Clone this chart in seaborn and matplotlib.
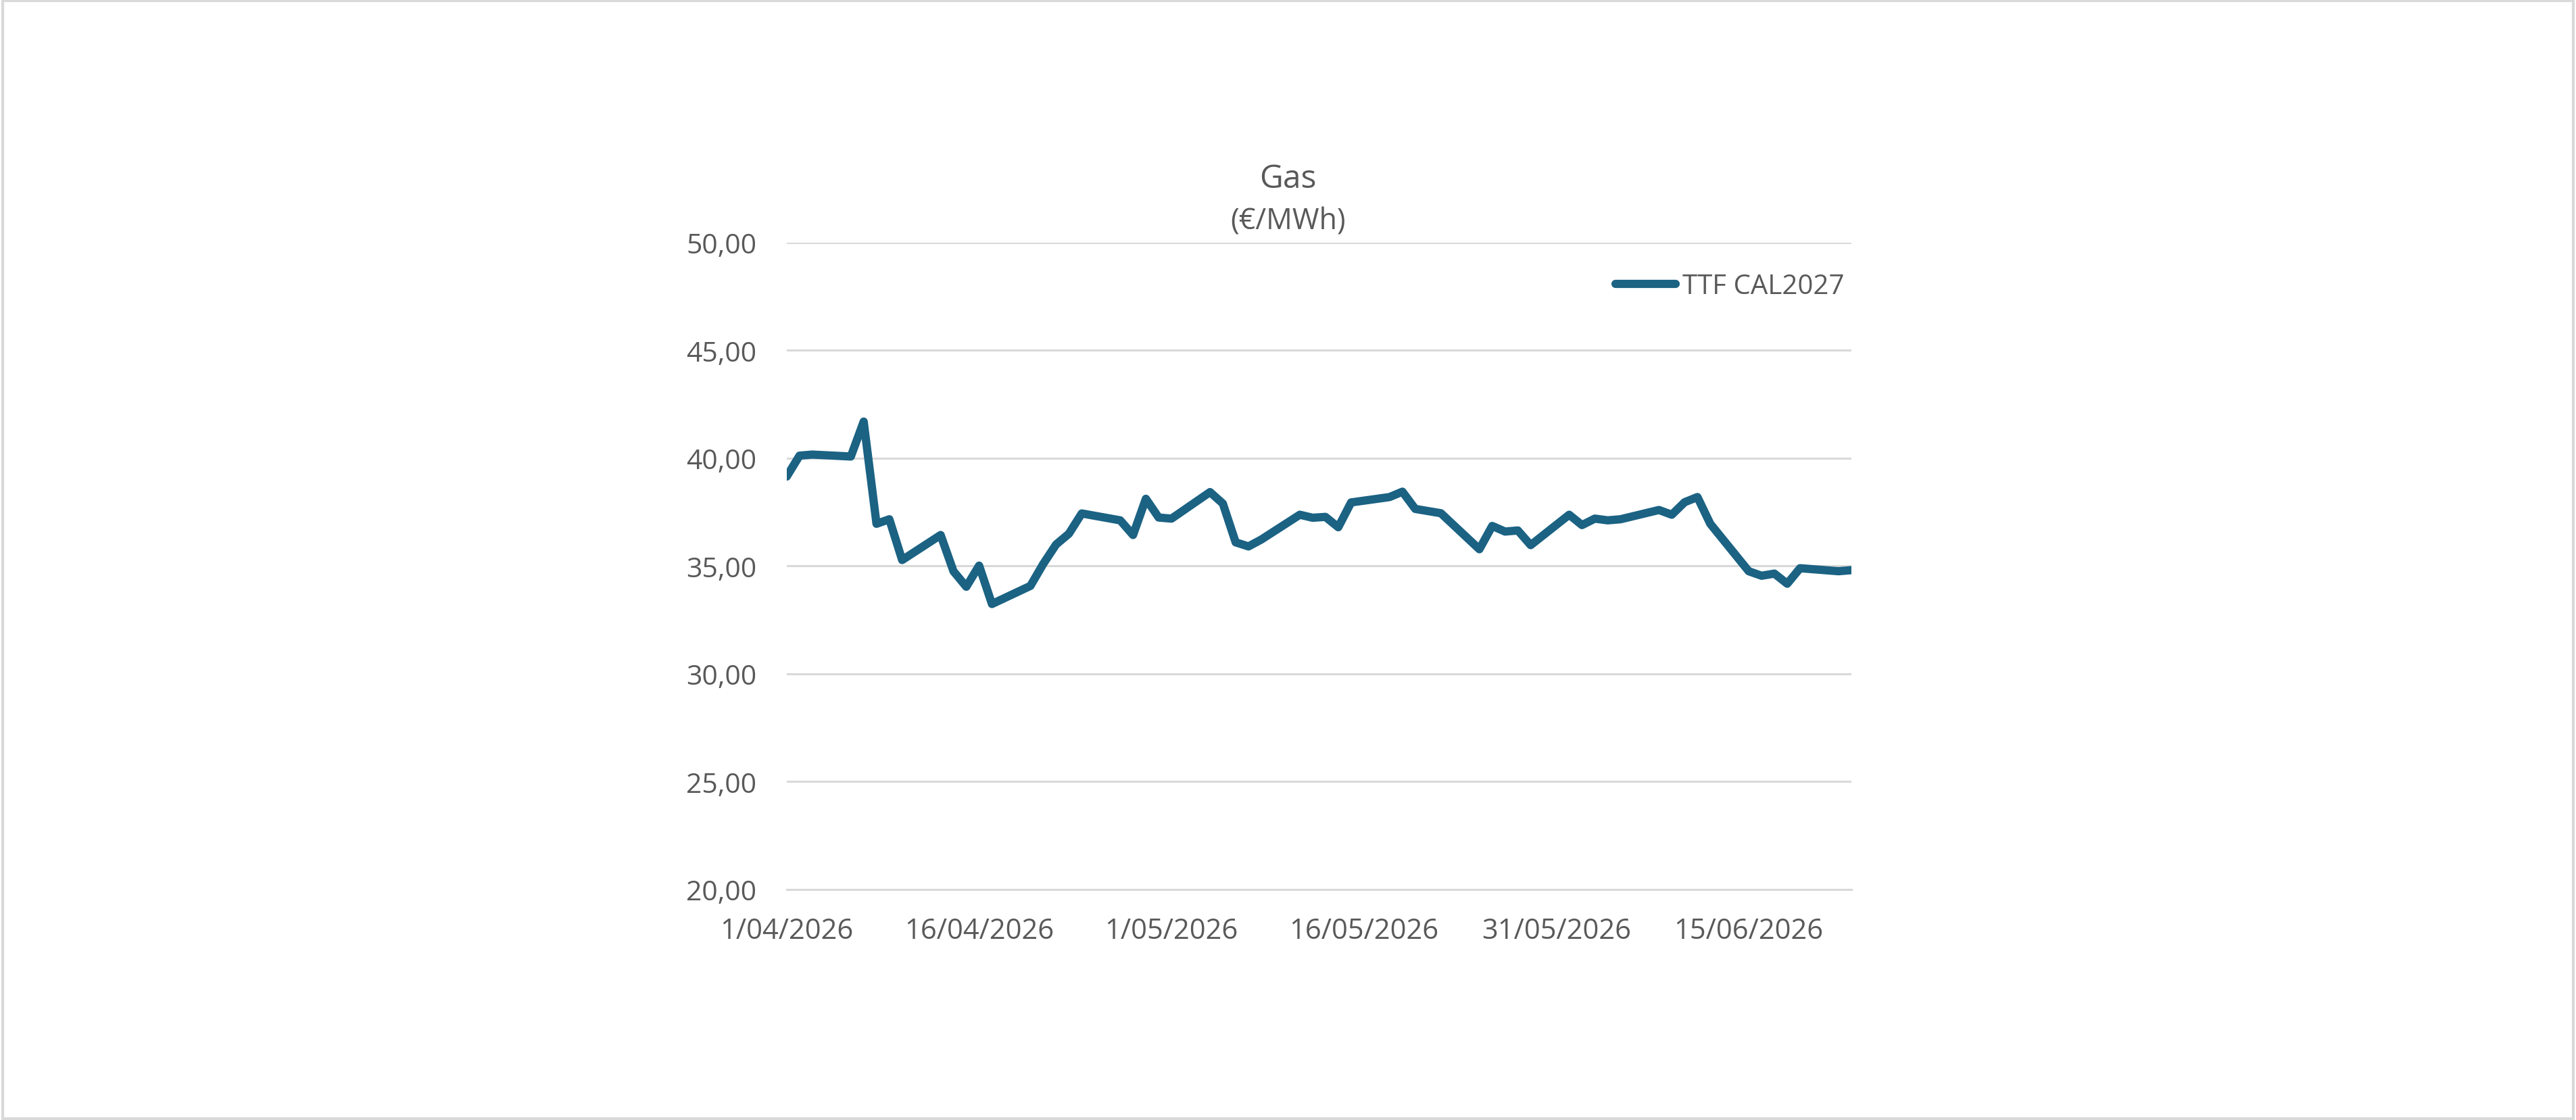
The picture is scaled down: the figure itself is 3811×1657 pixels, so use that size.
import matplotlib
matplotlib.use("Agg")
import matplotlib.pyplot as plt
import matplotlib.ticker as mticker
import pandas as pd
import seaborn as sns

sns.set_style("white")
plt.rcParams['font.family'] = ['Open Sans', 'DejaVu Sans']

# TTF CAL2027 settlement prices (EUR/MWh), trading days 1/04/2026 - 23/06/2026
dates = pd.bdate_range("2026-04-01", "2026-06-23")
prices = [
    39.15, 40.12, 40.17, 40.08, 41.70, 36.96, 37.17, 35.28,
    36.44, 34.76, 34.04, 35.02, 33.24,
    34.08, 35.10, 36.00, 36.50, 37.44,
    37.12, 36.44, 38.12, 37.25, 37.20,
    38.43, 37.90, 36.10, 35.91, 36.23,
    37.38, 37.24, 37.28, 36.80, 37.95,
    38.20, 38.45, 37.65, 37.55, 37.45,
    35.78, 36.86, 36.60, 36.65, 35.97,
    37.38, 36.90, 37.20, 37.12, 37.17,
    37.60, 37.38, 37.96, 38.20, 36.96,
    34.76, 34.55, 34.65, 34.18, 34.90,
    34.76, 34.81,
]
series_name = "TTF CAL2027"
tick_dates = ["2026-04-01", "2026-04-16", "2026-05-01", "2026-05-16", "2026-05-31", "2026-06-15"]
tick_labels = ["1/04/2026", "16/04/2026", "1/05/2026", "16/05/2026", "31/05/2026", "15/06/2026"]
y_ticks = [20, 25, 30, 35, 40, 45, 50]

df = pd.DataFrame({"date": dates, "price": prices, "serie": series_name})

text_col = "#595959"
grid_col = "#d9d9d9"
line_col = "#1b6283"

fig = plt.figure(figsize=(38.11, 16.58), dpi=100)
ax = fig.add_axes([0.3054, 0.2057, 0.7187 - 0.3054, 0.7829 - 0.2057])

sns.lineplot(data=df, x="date", y="price", hue="serie", palette=[line_col],
             linewidth=8.8, ax=ax)
for ln in ax.get_lines():
    ln.set_solid_joinstyle("round")
    ln.set_solid_capstyle("round")

ax.set_ylim(20, 50)
ax.set_xlim(pd.Timestamp("2026-04-01"), pd.Timestamp("2026-06-23"))
ax.set_yticks(y_ticks)
ax.yaxis.set_major_formatter(mticker.FuncFormatter(lambda v, p: f"{v:.2f}".replace(".", ",")))
ax.set_xticks(pd.to_datetime(tick_dates))
ax.set_xticklabels(tick_labels)

ax.grid(axis="y", color=grid_col, linewidth=2.2)
ax.set_axisbelow(True)
for s in ["top", "right", "left"]:
    ax.spines[s].set_visible(False)
ax.spines["bottom"].set_color(grid_col)
ax.spines["bottom"].set_linewidth(2.2)

ax.tick_params(axis="y", length=0, pad=32, labelsize=29.5, labelcolor=text_col)
ax.tick_params(axis="x", length=12, width=2.2, color=grid_col, pad=17,
               labelsize=30, labelcolor=text_col, direction="out")
ax.set_xlabel("")
ax.set_ylabel("")

leg = ax.legend(loc="center right", bbox_to_anchor=(1.006, 0.932), frameon=False,
                fontsize=29, handlelength=2.2, handletextpad=0.25, borderpad=0)
for t in leg.get_texts():
    t.set_color(text_col)

fig.text(0.4999, 0.840, "Gas", ha="center", va="center", fontsize=34.5, color=text_col)
fig.text(0.4999, 0.802, "(€/MWh)", ha="center", va="center", fontsize=31, color=text_col)

border = plt.Rectangle((0.001, 0.001), 0.998, 0.998, transform=fig.transFigure,
                       fill=False, edgecolor=grid_col, linewidth=3)
fig.patches.append(border)

fig.savefig("out.png", dpi=100, facecolor="white")
